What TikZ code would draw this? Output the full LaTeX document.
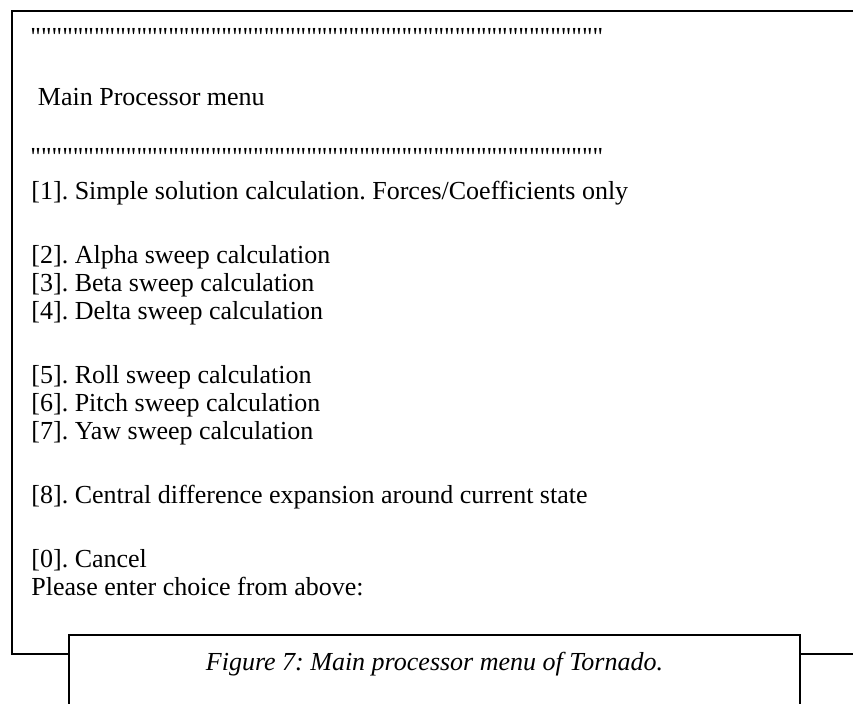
\documentclass[tikz,border=0pt]{standalone}
\usepackage{fontspec}
\setmainfont{Liberation Serif}[Ligatures={TeXOff,NoCommon}]
\frenchspacing
\begin{document}
\begin{tikzpicture}[x=0.4615pt,y=-0.4615pt,
  menuline/.style={anchor=base west,inner sep=0pt,font=\fontsize{12}{14}\selectfont},
  captext/.style={anchor=base,inner sep=0pt,font=\fontsize{12}{14}\selectfont\itshape},
  frame/.style={draw=black,line width=0.9pt}]
\useasboundingbox (0,0) rectangle (853,704);
\clip (0,0) rectangle (853,704);
% outer frame
\draw[frame] (12,654) -- (12,11) -- (880,11) -- (880,654) -- cycle;
% caption box
\filldraw[frame,fill=white] (69,730) -- (69,635) -- (800,635) -- (800,730);
% menu text
\node[menuline] (q1) at (30,46) {""""""""""""""""""""""""""""""""""""""""""""""""""""""};
\node[menuline] (title) at (37.5,106) {Main Processor menu};
\node[menuline] (q2) at (30,166) {""""""""""""""""""""""""""""""""""""""""""""""""""""""};
\node[menuline] (l1) at (31,200) {[1]. Simple solution calculation. Forces/Coefficients only};
\node[menuline] (l2) at (31,264) {[2]. Alpha sweep calculation};
\node[menuline] (l3) at (31,292) {[3]. Beta sweep calculation};
\node[menuline] (l4) at (31,320) {[4]. Delta sweep calculation};
\node[menuline] (l5) at (31,384) {[5]. Roll sweep calculation};
\node[menuline] (l6) at (31,412) {[6]. Pitch sweep calculation};
\node[menuline] (l7) at (31,440) {[7]. Yaw sweep calculation};
\node[menuline] (l8) at (31,504) {[8]. Central difference expansion around current state};
\node[menuline] (l0) at (31,568) {[0]. Cancel};
\node[menuline] (pl) at (31,596) {Please enter choice from above:};
% caption
\node[captext] (cap) at (434.5,670) {Figure 7: Main processor menu of Tornado.};
\end{tikzpicture}
\end{document}
